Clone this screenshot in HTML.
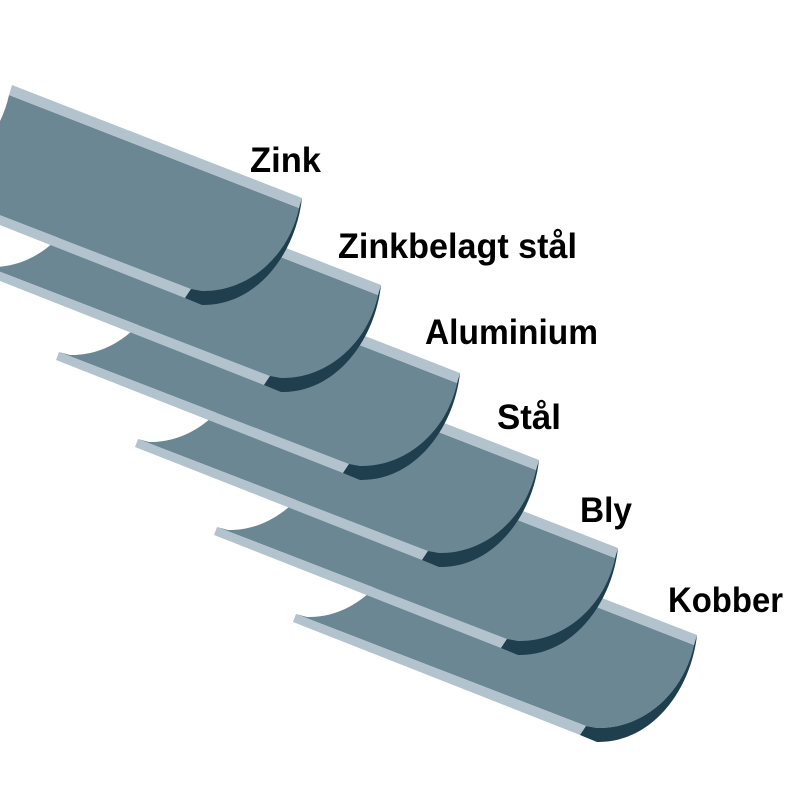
<!DOCTYPE html>
<html><head><meta charset="utf-8"><style>
html,body{margin:0;padding:0;background:#fff}
svg{display:block}
text{font-family:"Liberation Sans",sans-serif;font-weight:bold;font-size:35px;fill:#000}
</style></head><body>
<svg width="800" height="800" viewBox="0 0 800 800" xmlns="http://www.w3.org/2000/svg">
<defs>
<g id="g">
  <path d="M-3,10 C-14,60 -55,94 -100,93 L-111,91 L-401,-21 L-390,-18 C-345,-17 -304,-53 -293,-103 Z" fill="#6b8794"/>
  <path d="M0,0 L-290,-113 L-293,-103 L-3,10 Z" fill="#b3c3ce"/>
  <path d="M-111,91 L-401,-21 L-404,-13 L-117,100 Z" fill="#b3c3ce"/>
  <path d="M0,0 C-6,55 -45,108 -100,107 L-117,100 L-111,91 L-100,93 C-55,94 -14,60 -3,10 Z" fill="#1f3f4f"/>
</g>
</defs>
<use href="#g" transform="translate(697,635)"/>
<use href="#g" transform="translate(618,548)"/>
<use href="#g" transform="translate(539,460)"/>
<use href="#g" transform="translate(460,373)"/>
<use href="#g" transform="translate(381,285)"/>
<use href="#g" transform="translate(302,198)"/>
<text x="250" y="172" textLength="71" lengthAdjust="spacingAndGlyphs">Zink</text>
<text x="338" y="258" textLength="239" lengthAdjust="spacingAndGlyphs">Zinkbelagt stål</text>
<text x="425" y="344" textLength="173" lengthAdjust="spacingAndGlyphs">Aluminium</text>
<text x="497" y="429" textLength="64" lengthAdjust="spacingAndGlyphs">Stål</text>
<text x="580" y="522" textLength="52" lengthAdjust="spacingAndGlyphs">Bly</text>
<text x="668" y="612" textLength="115" lengthAdjust="spacingAndGlyphs">Kobber</text>
</svg>
</body></html>
